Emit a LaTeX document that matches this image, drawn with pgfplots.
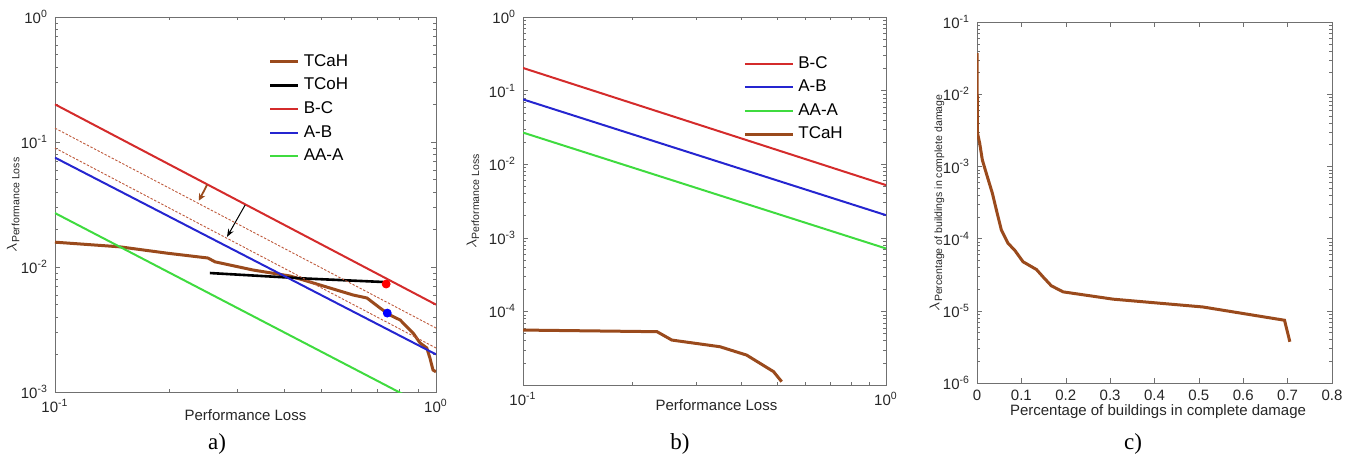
\documentclass[border=0pt]{standalone}
\usepackage{fontspec}
\setmainfont{Liberation Sans}
\newfontfamily\capfont{Liberation Serif}
\usepackage{pgfplots}
\pgfplotsset{compat=1.18}
\usetikzlibrary{arrows.meta}
\definecolor{bcred}{HTML}{D42B2B}
\definecolor{abblue}{HTML}{2525D0}
\definecolor{aagreen}{HTML}{3FDB3F}
\definecolor{tcah}{HTML}{9A4A1C}
\definecolor{dashbrown}{HTML}{BE5A3C}
\definecolor{frame}{HTML}{707070}

\newcommand\tpow[1]{10\textsuperscript{#1}}

\pgfplotsset{
  matlab/.style={
    scale only axis, anchor=south west,
    axis line style={frame}, tick style={frame},
    major tick length=2.5pt, minor tick length=1.4pt,
    tick label style={font=\fontsize{7.5}{8}\selectfont, text=black!85},
    label style={font=\fontsize{7.5}{9}\selectfont, text=black!85},
    legend style={draw=none, fill=none, font=\fontsize{8.5}{9}\selectfont,
      row sep=0.4pt, inner sep=0pt},
    legend cell align=left,
  },
  decx/.style={xmin=0.1, xmax=1, xtick={0.1,1},
    xticklabels={\tpow{-1},\tpow{0}},
    minor xtick={0.2,0.3,0.4,0.5,0.6,0.7,0.8,0.9}},
}

\begin{document}
\begin{tikzpicture}[x=1pt,y=1pt]
\useasboundingbox (0,0) rectangle (676.5,227.5);

% a)
\begin{axis}[xmode=log, ymode=log, matlab, decx, at={(27.5pt,31.5pt)}, width=190.5pt, height=187.5pt,
  ymin=1e-3, ymax=1,
  ytick={1e-3,1e-2,1e-1,1}, yticklabels={\tpow{-3},\tpow{-2},\tpow{-1},\tpow{0}},
  minor ytick={2e-3,3e-3,4e-3,5e-3,6e-3,7e-3,8e-3,9e-3,
    2e-2,3e-2,4e-2,5e-2,6e-2,7e-2,8e-2,9e-2,
    0.2,0.3,0.4,0.5,0.6,0.7,0.8,0.9},
  xlabel={Performance Loss}, ylabel={$\lambda$\textsubscript{Performance Loss}},
  xlabel style={at={(axis description cs:0.5,-0.061)}, anchor=center},
  ylabel style={at={(axis description cs:-0.110,0.5)}, anchor=center},
  legend style={at={(axis description cs:0.56,0.912)}, anchor=north west},
  legend image code/.code={\draw[#1] (0pt,0pt) -- (14pt,0pt);},
]
\addplot[tcah, line width=1.5pt] coordinates {
  (0.1,0.0158) (0.148,0.0145) (0.197,0.0129) (0.252,0.0118) (0.263,0.0110)
  (0.331,0.00946) (0.414,0.00847) (0.496,0.00718) (0.606,0.00597)
  (0.659,0.00565) (0.713,0.0047) (0.757,0.00413) (0.805,0.00377)
  (0.871,0.00296) (0.908,0.00247) (0.946,0.00225) (0.964,0.00187)
  (0.982,0.0015) (1.0,0.00145)};
\addlegendentry{TCaH}
\addplot[black, line width=1.3pt] coordinates {(0.255,0.00895) (0.45,0.0081) (0.726,0.00759)};
\addlegendentry{TCoH}
\addplot[bcred, line width=1pt] coordinates {(0.1,0.2) (1,0.005)};
\addlegendentry{B-C}
\addplot[abblue, line width=1pt] coordinates {(0.1,0.075) (1,0.002)};
\addlegendentry{A-B}
\addplot[aagreen, line width=1pt] coordinates {(0.1,0.027) (1,0.0007)};
\addlegendentry{AA-A}
\addplot[dashbrown, dash pattern=on 1.2pt off 0.8pt, line width=0.45pt, forget plot] coordinates {(0.1,0.129) (1,0.00325)};
\addplot[dashbrown, dash pattern=on 1.2pt off 0.8pt, line width=0.45pt, forget plot] coordinates {(0.1,0.0895) (1,0.00225)};
\addplot[only marks, mark=*, mark size=2pt, color=red, forget plot] coordinates {(0.74,0.00731)};
\addplot[only marks, mark=*, mark size=2pt, color=blue, forget plot] coordinates {(0.745,0.00428)};
\draw[tcah, line width=0.9pt, -{Stealth[length=3.5pt,width=3.5pt]}] (axis cs:0.2506,0.0453) -- (axis cs:0.2387,0.034);
\draw[black, line width=0.5pt, -{Stealth[length=4pt,width=3pt]}] (axis cs:0.3155,0.0313) -- (axis cs:0.2828,0.0174);
\end{axis}

% b)
\begin{axis}[xmode=log, ymode=log, matlab, decx, at={(261.5pt,35pt)}, width=181.5pt, height=184pt,
  ymin=1e-5, ymax=1,
  ytick={1e-4,1e-3,1e-2,1e-1,1}, yticklabels={\tpow{-4},\tpow{-3},\tpow{-2},\tpow{-1},\tpow{0}},
  minor ytick={2e-5,3e-5,4e-5,5e-5,6e-5,7e-5,8e-5,9e-5,
    2e-4,3e-4,4e-4,5e-4,6e-4,7e-4,8e-4,9e-4,
    2e-3,3e-3,4e-3,5e-3,6e-3,7e-3,8e-3,9e-3,
    2e-2,3e-2,4e-2,5e-2,6e-2,7e-2,8e-2,9e-2,
    0.2,0.3,0.4,0.5,0.6,0.7,0.8,0.9},
  xlabel={Performance Loss}, ylabel={$\lambda$\textsubscript{Performance Loss}},
  xlabel style={at={(axis description cs:0.533,-0.054)}, anchor=center},
  ylabel style={at={(axis description cs:-0.138,0.5)}, anchor=center},
  legend style={at={(axis description cs:0.606,0.905)}, anchor=north west},
  legend image code/.code={\draw[#1] (0pt,0pt) -- (24pt,0pt);},
]
\addplot[bcred, line width=1pt] coordinates {(0.1,0.203) (1,0.0052)};
\addlegendentry{B-C}
\addplot[abblue, line width=1pt] coordinates {(0.1,0.076) (1,0.00203)};
\addlegendentry{A-B}
\addplot[aagreen, line width=1pt] coordinates {(0.1,0.0269) (1,0.000716)};
\addlegendentry{AA-A}
\addplot[tcah, line width=1.5pt] coordinates {
  (0.1,5.58e-5) (0.234,5.3e-5) (0.257,4.08e-5) (0.349,3.31e-5)
  (0.413,2.55e-5) (0.49,1.52e-5) (0.516,1.11e-5)};
\addlegendentry{TCaH}
\end{axis}

% c)
\begin{axis}[ymode=log, matlab, at={(488.5pt,36pt)}, width=177.5pt, height=180.5pt,
  xmin=0, xmax=0.8, xtick={0,0.1,0.2,0.3,0.4,0.5,0.6,0.7,0.8},
  xticklabels={0,0.1,0.2,0.3,0.4,0.5,0.6,0.7,0.8},
  ymin=1e-6, ymax=1e-1,
  ytick={1e-6,1e-5,1e-4,1e-3,1e-2,1e-1},
  yticklabels={\tpow{-6},\tpow{-5},\tpow{-4},\tpow{-3},\tpow{-2},\tpow{-1}},
  minor ytick={2e-6,3e-6,4e-6,5e-6,6e-6,7e-6,8e-6,9e-6,
    2e-5,3e-5,4e-5,5e-5,6e-5,7e-5,8e-5,9e-5,
    2e-4,3e-4,4e-4,5e-4,6e-4,7e-4,8e-4,9e-4,
    2e-3,3e-3,4e-3,5e-3,6e-3,7e-3,8e-3,9e-3,
    2e-2,3e-2,4e-2,5e-2,6e-2,7e-2,8e-2,9e-2},
  xlabel={Percentage of buildings in complete damage},
  ylabel={$\lambda$\textsubscript{Percentage of buildings in complete damage}},
  xlabel style={at={(axis description cs:0.51,-0.078)}, anchor=center},
  ylabel style={at={(axis description cs:-0.113,0.5)}, anchor=center},
]
\addplot[tcah, line width=1.5pt] coordinates {
  (0,0.037) (0.001,0.0029) (0.006,0.0021) (0.012,0.00123) (0.021,0.0008)
  (0.0346,0.000425) (0.0436,0.00025) (0.0548,0.000132) (0.07,8.6e-5)
  (0.085,6.9e-5) (0.1037,4.78e-5) (0.134,3.73e-5) (0.149,2.94e-5)
  (0.1675,2.22e-5) (0.194,1.83e-5) (0.3065,1.45e-5) (0.509,1.13e-5)
  (0.693,7.4e-6) (0.705,3.73e-6)};
\end{axis}

\node[font=\capfont\fontsize{11.5}{12}\selectfont, anchor=base] at (108.5,3) {a)};
\node[font=\capfont\fontsize{11.5}{12}\selectfont, anchor=base] at (340,3) {b)};
\node[font=\capfont\fontsize{11.5}{12}\selectfont, anchor=base] at (566.5,3) {c)};
\end{tikzpicture}
\end{document}
